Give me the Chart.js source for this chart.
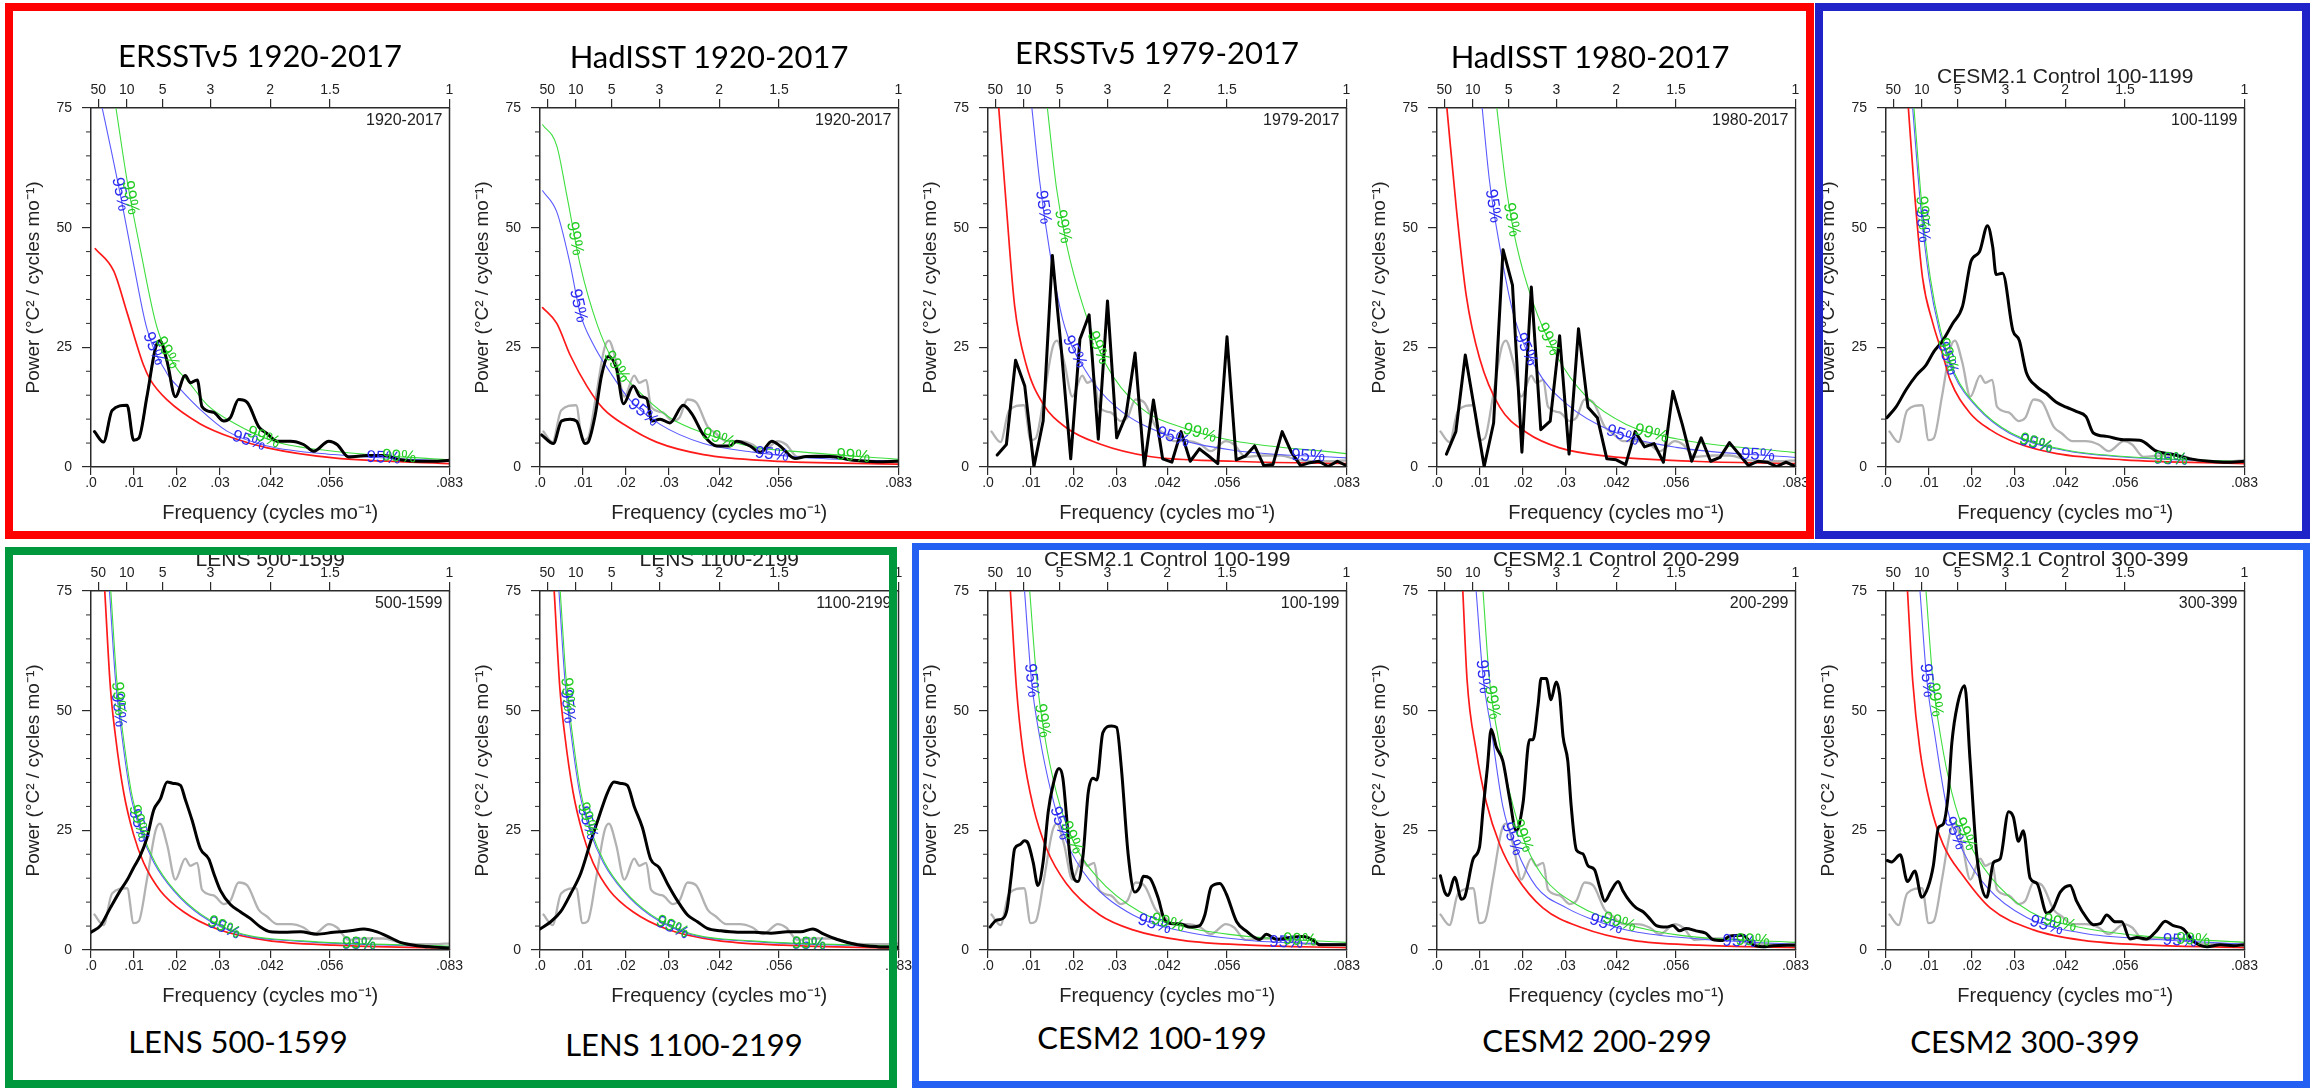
<!DOCTYPE html>
<html>
<head>
<meta charset="utf-8">
<script src="https://cdn.jsdelivr.net/npm/chart.js@4.4.1/dist/chart.umd.min.js"></script>
<style>
  body { margin: 0; background: #fff; }
  #wrap { position: relative; width: 2318px; height: 1088px; overflow: hidden; background: #fff; }
  #wrap canvas { position: absolute; }
  .box { position: absolute; box-sizing: border-box; pointer-events: none; z-index: 5; }
  .cap { position: absolute; transform: translate(-50%, -50%); font-family: Lato, 'Open Sans', sans-serif;
         font-size: 31px; color: #000; white-space: nowrap; z-index: 4; }
</style>
</head>
<body>
<div id="wrap"></div>
<script>
// ---- axes ----
const FREQ_TICKS = [0, 0.01, 0.02, 0.03, 1 / 24, 1 / 18, 1 / 12];
const FREQ_LABELS = ['.0', '.01', '.02', '.03', '.042', '.056', '.083'];
const PERIOD_TICKS = [1 / 600, 1 / 120, 1 / 60, 1 / 36, 1 / 24, 1 / 18, 1 / 12];  // 50, 10, 5, 3, 2, 1.5, 1 yr
const PERIOD_LABELS = ['50', '10', '5', '3', '2', '1.5', '1'];
const POWER_MAX = 75;
const POWER_STEP = 25;
const POWER_MINOR = 5;

// ---- spectra, [frequency (cycles/mo), power] ----
// ERSSTv5 1920-2017: black in the first panel, grey reference everywhere else
const ersst1920 = [[.0008,7.4],[.0029,5.2],[.0049,11.8],[.0084,12.9],[.0099,5.6],[.0111,6.0],[.0130,14.7],[.0150,24.9],[.0160,26.4],[.0177,22.0],[.0196,14.7],[.0219,19.1],[.0231,17.6],[.0247,18.2],[.0258,12.6],[.0285,11.4],[.0309,9.6],[.0324,10.3],[.0343,14.1],[.0363,13.5],[.0390,8.4],[.0409,7.0],[.0433,5.4],[.0464,5.4],[.0494,4.7],[.0518,3.3],[.0553,5.4],[.0572,4.7],[.0599,2.1],[.0642,2.4],[.0681,2.4],[.0719,1.5],[.0758,1.2],[.0797,1.2],[.0833,1.4]];
const red1 = [[.001,45.6],[.0053,40.9],[.0084,32.2],[.0122,21.3],[.0138,18.2],[.0177,14.0],[.0254,9.0],[.0332,6.0],[.041,4.0],[.0564,1.9],[.0833,0.7]];
const blue1 = [[.0026,75],[.0045,67],[.0068,57],[.0099,42.4],[.013,28.9],[.0177,19.5],[.0208,16.2],[.0254,12.0],[.0316,7.5],[.041,4.4],[.0564,2.6],[.0833,1.2]];
const green1 = [[.0058,75],[.0084,59.8],[.0115,45.3],[.0153,29.3],[.02,20.5],[.0223,18.2],[.027,13.0],[.0332,9.2],[.0425,5.4],[.0564,3.3],[.0833,1.5]];

const hadisst1920 = [[.0004,6.7],[.0031,4.9],[.005,9.6],[.007,10.0],[.0085,9.6],[.0105,4.9],[.0112,5.2],[.0128,10.7],[.0143,19.1],[.0159,23.1],[.0178,20.5],[.0194,13.2],[.0217,16.9],[.0233,14.7],[.0248,14.3],[.026,9.6],[.0279,10.0],[.0302,9.2],[.0333,12.9],[.0353,11.1],[.038,6.7],[.0411,4.4],[.0442,4.4],[.0457,5.4],[.0488,4.4],[.0512,3.0],[.0539,5.4],[.0558,4.4],[.0593,1.8],[.062,2.2],[.0674,2.2],[.0729,1.4],[.0783,1.1],[.0833,1.2]];
const red2 = [[.0006,33.3],[.0039,30.0],[.007,23.4],[.0109,16.9],[.0147,12.2],[.0202,8.5],[.0271,5.2],[.038,2.6],[.0535,1.3],[.0833,0.6]];
const blue2 = [[.0006,57.7],[.0039,53.3],[.007,42.4],[.0093,32.2],[.0124,25.6],[.0163,19.8],[.0209,14.0],[.0279,8.9],[.038,4.9],[.0496,3.1],[.0612,2.0],[.0833,1.2]];
const green2 = [[.0006,71.5],[.0039,67.1],[.0062,56.9],[.0093,42.4],[.0132,30.0],[.0171,22.0],[.0225,16.2],[.0302,10.3],[.038,7.1],[.0496,4.2],[.0612,3.1],[.0833,1.6]];

// raw periodograms, one value per harmonic k = 1, 2, ... (frequency k / months)
const ersst1979Months = 468;
const ersst1979 = [2.5,4.7,22.3,16.9,0.1,9.6,44.2,24.0,1.7,26.7,31.8,5.8,34.7,6.1,10.7,23.8,0.1,14.0,1.7,1.0,7.4,1.2,3.8,2.3,0.7,27.2,1.5,2.3,4.4,0.3,0.5,7.4,3.1,0.3,0.9,1.2,0.1,1.2,0.3];
const red3 = [[.0025,75],[.0043,54],[.0062,33.6],[.0089,21.3],[.0128,13.2],[.0182,8.2],[.026,4.8],[.0376,2.2],[.057,1.2],[.0833,0.7]];
const blue3 = [[.0102,75],[.012,59.8],[.0143,45.3],[.0174,30.7],[.0229,19.8],[.0298,12.5],[.0415,6.7],[.057,3.5],[.0833,1.9]];
const green3 = [[.0138,75],[.0159,58.4],[.0182,46.7],[.0221,33.6],[.0275,21.3],[.0353,12.5],[.0453,8.2],[.057,5.5],[.0833,2.8]];

const hadisst1980Months = 456;
const hadisst1980 = [2.7,7.4,23.4,11.8,0.1,9.2,45.4,38.0,3.1,37.6,7.8,9.6,27.4,2.7,28.9,12.5,10.3,1.7,1.5,0.5,7.4,4.2,4.9,1.0,15.8,8.9,1.2,6.1,1.2,2.0,5.1,2.7,0.3,1.2,1.0,0.1,1.0,0.1];
const red4 = [[.0023,75],[.0045,54],[.0068,35.8],[.0099,22.7],[.0146,12.5],[.0208,7.2],[.0285,4.0],[.0401,2.2],[.0595,1.2],[.0833,0.7]];
const blue4 = [[.0105,75],[.0122,59.8],[.0146,46.0],[.0177,32.2],[.0231,20.5],[.0301,13.2],[.0409,7.4],[.0556,4.1],[.0833,2.0]];
const green4 = [[.0139,75],[.0161,58.4],[.0184,46.7],[.0223,34.4],[.0277,23.4],[.0347,14.7],[.044,8.9],[.0556,5.9],[.0833,3.0]];

const cesm1199 = [[.0002,10.3],[.0023,12.5],[.0047,16.2],[.007,19.1],[.0093,21.3],[.0112,24.2],[.0132,26.4],[.0155,30.0],[.0178,33.6],[.0198,43.1],[.0217,44.9],[.0236,50.4],[.0248,46.0],[.0256,40.2],[.0271,40.5],[.0295,28.5],[.031,26.4],[.0326,19.8],[.0349,16.9],[.0372,15.4],[.0395,13.6],[.0419,12.5],[.0442,11.6],[.0465,10.5],[.0482,7.1],[.0513,6.4],[.0552,5.7],[.059,5.6],[.0629,3.3],[.0668,2.6],[.0707,1.7],[.0753,1.2],[.0791,1.0],[.0833,1.2]];
const red5 = [[.0052,75],[.0066,57.7],[.0085,39.5],[.0109,30.0],[.0132,23.4],[.0149,18.2],[.0195,11.3],[.0242,7.8],[.0304,5.0],[.0397,2.8],[.0552,1.5],[.0833,0.7]];
const blue5 = [[.0062,75],[.0081,54],[.01,39.5],[.0124,28.5],[.0157,19.5],[.0211,12.5],[.0288,7.0],[.0412,3.5],[.0552,2.1],[.0833,1.0]];
const green5 = [[.0065,75],[.0084,54],[.0103,39.5],[.0127,28.5],[.016,19.5],[.0214,12.5],[.0291,7.1],[.0415,3.6],[.0555,2.2],[.0833,1.1]];

const lens500 = [[0,3.7],[.0022,5.1],[.0045,8.8],[.0068,12.4],[.0084,14.6],[.0099,17.2],[.0115,19.8],[.013,23.4],[.0146,29.3],[.0161,31.5],[.0177,35.1],[.0192,34.8],[.0208,34.4],[.0219,31.5],[.0235,27.1],[.0254,21.2],[.0274,19.0],[.0285,16.1],[.0301,12.4],[.0324,9.5],[.0347,8.0],[.037,6.6],[.0394,4.8],[.0417,3.8],[.0448,3.7],[.0487,3.8],[.0525,3.3],[.0564,3.7],[.0603,4.0],[.0634,4.4],[.0665,3.8],[.0688,2.9],[.0719,1.6],[.0758,0.9],[.0797,0.6],[.0833,0.4]];
const red6 = [[.0032,75],[.0045,54.9],[.0057,44.6],[.0076,32.9],[.0099,24.1],[.0122,18.3],[.0161,12.4],[.0215,8.0],[.0293,4.4],[.0409,2.0],[.0564,1.0],[.0833,0.4]];
const blue6 = [[.0043,75],[.0057,56.3],[.0072,44.6],[.0091,32.9],[.0115,24.9],[.0146,18.3],[.0192,12.4],[.0254,7.3],[.0347,3.3],[.0487,1.8],[.0833,0.7]];
const green6 = [[.0046,75],[.006,56.3],[.0075,44.6],[.0094,32.9],[.0118,24.9],[.0149,18.3],[.0195,12.4],[.0257,7.4],[.035,3.4],[.049,1.9],[.0833,0.8]];

const lens1100 = [[0,4.4],[.0025,5.9],[.0048,8.0],[.0071,11.7],[.0095,16.1],[.0118,22.7],[.0137,27.8],[.0157,32.9],[.0172,35.1],[.0188,34.8],[.0203,34.4],[.0219,30.0],[.0238,25.6],[.0257,19.0],[.0277,17.2],[.0296,13.9],[.032,10.2],[.0343,7.3],[.0366,5.9],[.0389,4.5],[.042,4.0],[.0459,3.7],[.0498,3.7],[.0537,3.5],[.0575,3.8],[.0606,3.8],[.0634,4.4],[.066,3.3],[.0691,2.2],[.0738,1.1],[.0784,0.7],[.0833,0.6]];
const red7 = [[.0033,75],[.0046,54.9],[.0058,44.6],[.0077,32.9],[.01,24.1],[.0123,18.3],[.0162,12.4],[.0216,8.0],[.0294,4.4],[.041,2.0],[.0565,1.0],[.0833,0.4]];
const blue7 = [[.0044,75],[.0058,56.3],[.0073,44.6],[.0092,32.9],[.0116,24.9],[.0147,18.3],[.0193,12.4],[.0255,7.3],[.0348,3.3],[.0488,1.8],[.0833,0.7]];
const green7 = [[.0047,75],[.0061,56.3],[.0076,44.6],[.0095,32.9],[.0119,24.9],[.015,18.3],[.0196,12.4],[.0258,7.4],[.0351,3.4],[.0491,1.9],[.0833,0.8]];

const cesm100 = [[.0005,4.8],[.0019,6.2],[.0035,6.6],[.0044,8.4],[.0054,15.4],[.0062,21.2],[.0074,22.0],[.0085,22.8],[.0093,22.3],[.0105,18.3],[.0116,13.5],[.0128,18.3],[.014,28.9],[.0151,34.4],[.0165,37.9],[.0174,35.9],[.0182,28.5],[.019,19.8],[.0198,15.4],[.0209,14.3],[.0221,19.8],[.0233,32.9],[.0244,35.9],[.0253,35.5],[.0267,45.4],[.0287,46.8],[.0299,46.5],[.031,38.0],[.0326,19.8],[.0341,12.1],[.0353,13.2],[.0361,15.4],[.0376,15.0],[.0395,11.0],[.0411,6.2],[.043,5.5],[.0446,5.5],[.0469,4.8],[.0492,5.1],[.0504,7.3],[.0519,13.2],[.0539,13.9],[.0554,11.7],[.0578,5.9],[.06,4.0],[.0632,2.2],[.0647,3.3],[.0671,2.2],[.0702,2.6],[.0733,2.8],[.0756,2.0],[.0771,1.1],[.0802,1.1],[.0833,1.1]];
const red8 = [[.0052,75],[.0066,54.9],[.0081,41.7],[.0105,30.0],[.0136,21.2],[.0182,13.9],[.026,7.3],[.0337,4.2],[.0453,2.0],[.0608,1.0],[.0833,0.5]];
const blue8 = [[.0085,75],[.0101,56.3],[.012,44.6],[.0147,32.9],[.0182,22.7],[.0236,14.6],[.0337,7.3],[.0453,3.9],[.0608,2.0],[.0833,1.2]];
const green8 = [[.0097,75],[.0112,57.8],[.0132,44.6],[.0159,32.9],[.0198,22.7],[.0252,15.4],[.0353,8.0],[.0469,4.6],[.0608,2.8],[.0833,1.6]];

const cesm200 = [[.0008,15.5],[.0018,12.1],[.0026,11.4],[.0041,15.2],[.0057,10.6],[.0064,11.0],[.0084,19.0],[.0099,21.6],[.0107,29.3],[.0117,38.0],[.0126,46.1],[.0138,42.4],[.0153,39.5],[.0169,31.5],[.0184,24.9],[.02,30.7],[.0215,43.9],[.0223,43.9],[.0235,51.2],[.0242,56.7],[.0254,56.7],[.0265,52.3],[.0277,56.0],[.0285,53.4],[.0293,44.6],[.0304,39.5],[.0312,30.0],[.0324,20.9],[.0339,20.1],[.0351,17.6],[.0366,16.8],[.0378,13.2],[.039,10.2],[.0405,12.4],[.0421,14.3],[.0432,12.4],[.0448,10.2],[.0463,8.8],[.0479,8.0],[.0494,6.6],[.051,5.1],[.0533,4.8],[.0548,5.1],[.0564,4.0],[.0579,4.5],[.0602,4.0],[.0625,3.5],[.0641,2.2],[.0664,2.0],[.068,2.9],[.0711,3.1],[.0734,1.1],[.0757,0.7],[.0781,0.9],[.0833,1.0]];
const red9 = [[.006,75],[.007,56.3],[.0091,41.7],[.0115,30.7],[.0146,22.0],[.0184,15.4],[.0246,8.8],[.0339,4.6],[.0455,2.0],[.061,1.0],[.0833,0.5]];
const blue9 = [[.0091,75],[.0107,57.1],[.0126,46.1],[.0153,30.0],[.0184,21.2],[.0231,13.2],[.0301,8.8],[.0355,6.6],[.0455,3.9],[.061,2.3],[.0833,1.2]];
const green9 = [[.0107,75],[.0122,56.3],[.0142,44.6],[.0169,32.9],[.02,23.4],[.0246,15.4],[.0324,9.5],[.0432,5.6],[.0571,3.0],[.0833,1.6]];

const cesm300 = [[.0003,18.7],[.0013,18.4],[.0033,19.9],[.005,14.3],[.0067,16.5],[.0083,11.0],[.0098,13.2],[.011,17.6],[.0122,25.6],[.0133,26.3],[.0145,32.9],[.0153,43.2],[.0166,51.2],[.0183,55.2],[.0195,40.2],[.0211,19.8],[.0234,11.0],[.025,18.3],[.0265,19.0],[.0285,28.9],[.0296,27.8],[.0308,22.7],[.0319,24.9],[.0335,15.0],[.0351,13.9],[.0374,7.7],[.0389,8.8],[.0405,12.1],[.0428,13.5],[.0443,10.2],[.0467,6.6],[.0482,5.3],[.0498,5.5],[.0513,7.3],[.0533,5.9],[.0548,5.9],[.0567,2.3],[.0583,2.6],[.0606,2.3],[.0629,4.0],[.0649,6.0],[.0668,5.1],[.0691,4.4],[.0715,1.8],[.0746,0.7],[.0777,1.1],[.0808,0.9],[.0833,1.1]];
const red10 = [[.005,75],[.0062,56.3],[.0079,41.7],[.0102,30.7],[.0133,22.0],[.018,15.4],[.0242,8.8],[.0343,4.2],[.0459,2.0],[.0614,1.0],[.0833,0.5]];
const blue10 = [[.0079,75],[.0095,56.3],[.0114,44.6],[.0141,30.0],[.018,20.5],[.0234,13.2],[.0327,6.8],[.0459,3.5],[.0614,2.3],[.0833,1.2]];
const green10 = [[.0093,75],[.0109,56.3],[.0127,44.6],[.0153,32.9],[.0188,23.4],[.0242,15.4],[.0335,8.0],[.0459,4.6],[.0614,2.8],[.0833,1.6]];

// frequencies where the "95%" / "99%" line labels sit
const lbl95 = [[.0068,.0146,.0367,.068],[.0089,.024,.0539],[.0128,.0201,.043,.0744],[.013,.0207,.0432,.0746],[.0085,.0143,.0349,.0662],
               [.0064,.0111,.0309,.0623],[.0064,.011,.0308,.0625],[.0101,.0167,.0387,.0693],[.0107,.0175,.0393,.0703],[.0095,.016,.0373,.0683]];
const lbl99 = [[.0091,.0177,.0401,.0716],[.0081,.0178,.0415,.0728],[.0174,.0256,.0492],[.0173,.0258,.0498],[.0085,.0143,.0349,.0662],
               [.0064,.0111,.0309,.0623],[.0064,.011,.0308,.0625],[.0126,.0194,.0418,.0725],[.0128,.0198,.0424,.0734],[.0114,.0184,.0404,.0714]];

// ---- look ----
const FRAME = '#2a2a2a';
const TEXT = '#222';
const RED = '#ff1a1a';
const BLUE = '#5a5aff';
const GREEN = '#3ede3e';
const BLUE_TXT = '#2a2af0';
const GREEN_TXT = '#22cc22';
const GREY = '#b2b2b2';
const FONT = "'Liberation Sans', Arial, Helvetica, sans-serif";
Chart.defaults.font.family = FONT;
Chart.defaults.color = TEXT;

const CANVAS_W = 475, CANVAS_H = 477;
const Y_AXIS_W = 91, TOP_AXIS_H = 60, BOTTOM_AXIS_H = 58;
const PLOT_W = 358.5;
const COL_LEFT = [0, 449, 897, 1346, 1795];
const ROW_TOP = [48, 531];

const harmonics = (vals, months) => vals.map((v, i) => [(i + 1) / months, v]);
const pts = arr => arr.map(([x, y]) => ({ x, y }));

const panels = [
  { col: 0, row: 0, caption: 'ERSSTv5 1920-2017', corner: '1920-2017', black: ersst1920, red: red1, blue: blue1, green: green1 },
  { col: 1, row: 0, caption: 'HadISST 1920-2017', corner: '1920-2017', black: hadisst1920, red: red2, blue: blue2, green: green2 },
  { col: 2, row: 0, caption: 'ERSSTv5 1979-2017', corner: '1979-2017', black: harmonics(ersst1979, ersst1979Months), red: red3, blue: blue3, green: green3, raw: true },
  { col: 3, row: 0, caption: 'HadISST 1980-2017', corner: '1980-2017', black: harmonics(hadisst1980, hadisst1980Months), red: red4, blue: blue4, green: green4, raw: true },
  { col: 4, row: 0, title: 'CESM2.1 Control 100-1199', corner: '100-1199', black: cesm1199, red: red5, blue: blue5, green: green5 },
  { col: 0, row: 1, title: 'LENS 500-1599', caption: 'LENS 500-1599', corner: '500-1599', black: lens500, red: red6, blue: blue6, green: green6 },
  { col: 1, row: 1, title: 'LENS 1100-2199', caption: 'LENS 1100-2199', corner: '1100-2199', black: lens1100, red: red7, blue: blue7, green: green7 },
  { col: 2, row: 1, title: 'CESM2.1 Control 100-199', caption: 'CESM2 100-199', corner: '100-199', black: cesm100, red: red8, blue: blue8, green: green8 },
  { col: 3, row: 1, title: 'CESM2.1 Control 200-299', caption: 'CESM2 200-299', corner: '200-299', black: cesm200, red: red9, blue: blue9, green: green9 },
  { col: 4, row: 1, title: 'CESM2.1 Control 300-399', caption: 'CESM2 300-399', corner: '300-399', black: cesm300, red: red10, blue: blue10, green: green10 }
];

// cubic bezier helpers to follow the drawn (monotone) curve
const bez = (a, b, c, d, t) => { const u = 1 - t; return u*u*u*a + 3*u*u*t*b + 3*u*t*t*c + t*t*t*d; };
const dbez = (a, b, c, d, t) => { const u = 1 - t; return 3*u*u*(b - a) + 6*u*t*(c - b) + 3*t*t*(d - c); };

function pointOnCurve(meta, px) {
  const el = meta.data;
  for (let i = 0; i < el.length - 1; i++) {
    const a = el[i], b = el[i + 1];
    if (px < a.x || px > b.x) continue;
    const c1x = a.cp2x ?? a.x, c1y = a.cp2y ?? a.y, c2x = b.cp1x ?? b.x, c2y = b.cp1y ?? b.y;
    let lo = 0, hi = 1, t = 0.5;
    for (let k = 0; k < 40; k++) {
      t = (lo + hi) / 2;
      if (bez(a.x, c1x, c2x, b.x, t) < px) lo = t; else hi = t;
    }
    return {
      x: px, y: bez(a.y, c1y, c2y, b.y, t),
      angle: Math.atan2(dbez(a.y, c1y, c2y, b.y, t), dbez(a.x, c1x, c2x, b.x, t))
    };
  }
  return null;
}

const panelDecor = {
  id: 'panelDecor',
  afterDatasetsDraw(chart, args, opts) {
    const ctx = chart.ctx, area = chart.chartArea, ys = chart.scales.y, xs = chart.scales.x;
    ctx.save();
    // right side of the frame
    ctx.strokeStyle = FRAME;
    ctx.lineWidth = 1.5;
    ctx.beginPath();
    ctx.moveTo(area.right, area.top);
    ctx.lineTo(area.right, area.bottom);
    ctx.stroke();
    // minor ticks on the power axis
    ctx.lineWidth = 1;
    for (let v = POWER_MINOR; v < POWER_MAX; v += POWER_MINOR) {
      if (v % POWER_STEP === 0) continue;
      const py = ys.getPixelForValue(v);
      ctx.beginPath();
      ctx.moveTo(area.left - 5, py);
      ctx.lineTo(area.left, py);
      ctx.stroke();
    }
    // period label in the corner
    ctx.fillStyle = TEXT;
    ctx.font = '16px ' + FONT;
    ctx.textAlign = 'right';
    ctx.textBaseline = 'middle';
    ctx.fillText(opts.corner, area.right - 7, area.top + 13);
    // plot title (NCL style)
    if (opts.title) {
      ctx.font = '21px ' + FONT;
      ctx.textAlign = 'center';
      ctx.fillText(opts.title, (area.left + area.right) / 2, area.top - 31);
    }
    // contour-style labels on the significance curves
    ctx.font = '17px ' + FONT;
    ctx.textAlign = 'center';
    const drawLabels = (dsIndex, list, text, color) => {
      const meta = chart.getDatasetMeta(dsIndex);
      list.forEach(f => {
        const p = pointOnCurve(meta, xs.getPixelForValue(f));
        if (!p) return;
        ctx.save();
        ctx.translate(p.x, p.y);
        ctx.rotate(p.angle);
        ctx.fillStyle = color;
        ctx.fillText(text, 0, 0);
        ctx.restore();
      });
    };
    drawLabels(2, opts.lbl95, '95%', BLUE_TXT);
    drawLabels(1, opts.lbl99, '99%', GREEN_TXT);
    ctx.restore();
  }
};

function lineSet(data, color, width, smooth) {
  return {
    data: pts(data), borderColor: color, borderWidth: width, pointRadius: 0,
    fill: false, tension: 0, cubicInterpolationMode: smooth ? 'monotone' : 'default',
    borderJoinStyle: 'round', borderCapStyle: 'round'
  };
}

function freqAxis(position, tickVals, tickLabels, tickLen, height, title) {
  return {
    type: 'linear', axis: 'x', position, min: 0, max: 1 / 12,
    afterBuildTicks: s => { s.ticks = tickVals.map(v => ({ value: v })); },
    afterFit: s => { s.height = height; },
    ticks: { autoSkip: false, maxRotation: 0, minRotation: 0, padding: 0, color: TEXT,
             font: { size: 14 }, callback: (v, i) => tickLabels[i] },
    grid: { drawOnChartArea: false, drawTicks: true, tickLength: tickLen, color: FRAME, lineWidth: 1.2 },
    border: { display: true, color: FRAME, width: 1.5 },
    title: title ? { display: true, text: title, color: TEXT, font: { size: 20 }, padding: { top: 0, bottom: 0 } } : { display: false }
  };
}

const wrap = document.getElementById('wrap');

panels.forEach((p, i) => {
  const cv = document.createElement('canvas');
  cv.width = CANVAS_W;
  cv.height = CANVAS_H;
  cv.style.left = COL_LEFT[p.col] + 'px';
  cv.style.top = ROW_TOP[p.row] + 'px';
  wrap.appendChild(cv);

  new Chart(cv.getContext('2d'), {
    type: 'line',
    data: {
      datasets: [
        lineSet(p.black, '#000', 3, !p.raw),
        lineSet(p.green, GREEN, 1.1, true),
        lineSet(p.blue, BLUE, 1.1, true),
        lineSet(p.red, RED, 1.7, true),
        lineSet(ersst1920, GREY, 2.3, true)
      ]
    },
    options: {
      responsive: false,
      maintainAspectRatio: false,
      devicePixelRatio: 1,
      animation: false,
      parsing: false,
      layout: { padding: { left: 0, top: 0, bottom: 0, right: CANVAS_W - Y_AXIS_W - PLOT_W } },
      plugins: {
        legend: { display: false },
        tooltip: { enabled: false },
        panelDecor: { corner: p.corner, title: p.title, lbl95: lbl95[i], lbl99: lbl99[i] }
      },
      scales: {
        x: freqAxis('bottom', FREQ_TICKS, FREQ_LABELS, 8, BOTTOM_AXIS_H, 'Frequency (cycles mo\u207B\u00B9)'),
        x2: freqAxis('top', PERIOD_TICKS, PERIOD_LABELS, 9, TOP_AXIS_H, null),
        y: {
          min: 0, max: POWER_MAX,
          afterFit: s => { s.width = Y_AXIS_W; },
          ticks: { stepSize: POWER_STEP, padding: 10, color: TEXT, font: { size: 14 } },
          grid: { drawOnChartArea: false, drawTicks: true, tickLength: 9, color: FRAME, lineWidth: 1.2 },
          border: { display: true, color: FRAME, width: 1.5 },
          title: { display: true, text: 'Power (\u00B0C\u00B2 / cycles mo\u207B\u00B9)', color: TEXT,
                   font: { size: 19 }, padding: { top: 22, bottom: 0 } }
        }
      }
    },
    plugins: [panelDecor]
  });
});

// slide captions under / above the panels
const captions = [
  ['ERSSTv5 1920-2017', 260, 55], ['HadISST 1920-2017', 709, 56], ['ERSSTv5 1979-2017', 1157, 52], ['HadISST 1980-2017', 1590, 56],
  ['LENS 500-1599', 238, 1041], ['LENS 1100-2199', 684, 1044], ['CESM2 100-199', 1152, 1037], ['CESM2 200-299', 1597, 1040], ['CESM2 300-399', 2025, 1041]
];
captions.forEach(([txt, cx, cy]) => {
  const d = document.createElement('div');
  d.className = 'cap';
  d.textContent = txt;
  d.style.left = cx + 'px';
  d.style.top = cy + 'px';
  wrap.appendChild(d);
});

// coloured frames grouping the panels
const frames = [
  [5, 3, 1809, 536, 8, '#ff0000'],
  [1815, 3, 495, 536, 8, '#2024c8'],
  [5, 547, 892, 541, 8, '#00983c'],
  [912, 543, 1398, 545, 7, '#2460f2']
];
frames.forEach(([l, t, w, h, bw, c]) => {
  const d = document.createElement('div');
  d.className = 'box';
  Object.assign(d.style, { left: l + 'px', top: t + 'px', width: w + 'px', height: h + 'px', border: bw + 'px solid ' + c });
  wrap.appendChild(d);
});
</script>
</body>
</html>
